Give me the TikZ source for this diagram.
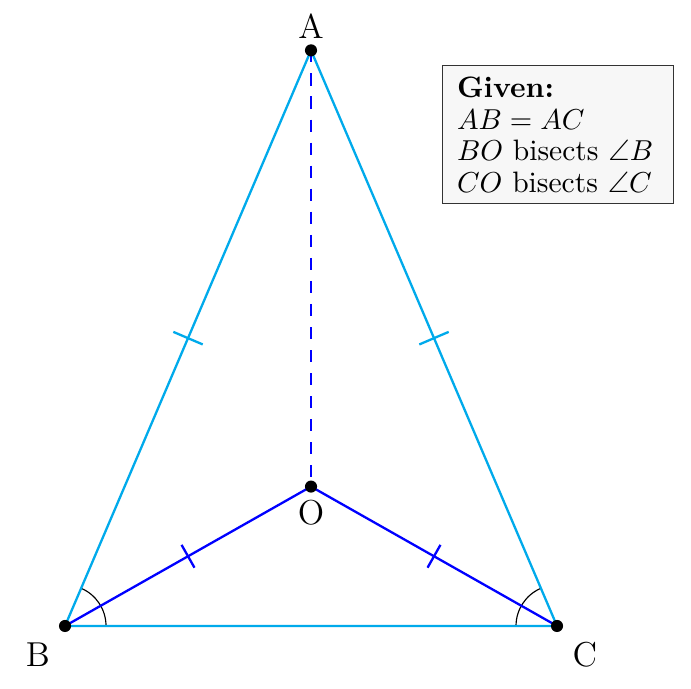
\documentclass[tikz,border=0pt]{standalone}
\usepackage{amssymb}
\usetikzlibrary{calc}
\definecolor{sidecol}{RGB}{0,170,235}
\tikzset{
  side/.style={sidecol, thick},
  inner/.style={blue, thick},
  pt/.style={circle, fill=black, inner sep=0pt, minimum size=4.2pt},
  ptlabel/.style={font=\large, inner sep=0pt},
  anglearc/.style={black, thin},
  givenbox/.style={draw=black!80, fill=gray!6, thin, align=left, text width=70.2pt, inner xsep=5pt, inner ysep=4pt, anchor=north west, font=\fontsize{10.25}{10.9}\selectfont}
}
\begin{document}
\begin{tikzpicture}
\useasboundingbox (-0.793,-0.768) rectangle (7.634,7.634);
\coordinate (A) at (3,7.02);
\coordinate (B) at (0,0);
\coordinate (C) at (6,0);
\coordinate (O) at (3,1.7);
% angle arcs
\draw[anglearc] ($(B)+(0.5,0)$) arc[start angle=0, end angle=66.8, radius=0.5];
\draw[anglearc] ($(C)+(-0.5,0)$) arc[start angle=180, end angle=113.2, radius=0.5];
% sides
\draw[side] (A) -- (B) -- (C) -- cycle;
\draw[inner] (B) -- (O) -- (C);
\draw[inner, dash pattern=on 4.2pt off 3.8pt] (A) -- (O);
% ticks
\draw[side] ($(A)!0.5!(B)!0.195cm!90:(B)$) -- ($(A)!0.5!(B)!0.195cm!-90:(B)$);
\draw[side] ($(A)!0.5!(C)!0.195cm!90:(C)$) -- ($(A)!0.5!(C)!0.195cm!-90:(C)$);
\draw[inner] ($(B)!0.5!(O)!0.16cm!90:(O)$) -- ($(B)!0.5!(O)!0.16cm!-90:(O)$);
\draw[inner] ($(C)!0.5!(O)!0.16cm!90:(O)$) -- ($(C)!0.5!(O)!0.16cm!-90:(O)$);
% points
\node[pt] (nA) at (A) {};
\node[pt] (nB) at (B) {};
\node[pt] (nC) at (C) {};
\node[pt] (nO) at (O) {};
\node[ptlabel] (lA) at ($(A)+(0,0.29)$) {A};
\node[ptlabel] (lB) at ($(B)+(-0.33,-0.354)$) {B};
\node[ptlabel] (lC) at ($(C)+(0.34,-0.354)$) {C};
\node[ptlabel] (lO) at ($(O)+(0,-0.317)$) {O};
% given box
\node[givenbox] (given) at (4.598,6.84) {\textbf{Given:}\\ $AB=AC$\\ $BO$ bisects $\angle B$\\ $CO$ bisects $\angle C$};
\end{tikzpicture}
\end{document}
